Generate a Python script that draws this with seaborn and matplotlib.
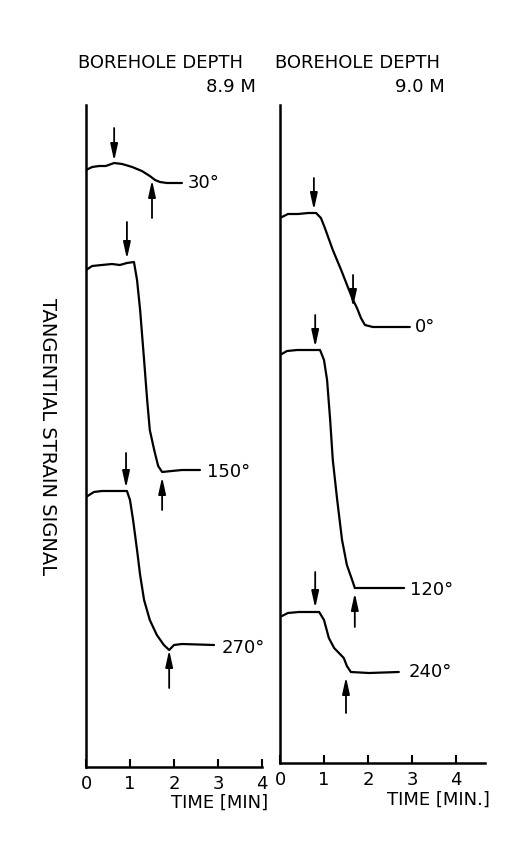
import numpy as np
import pandas as pd
import matplotlib
matplotlib.use("Agg")
import matplotlib.pyplot as plt
import seaborn as sns

# time [min] and signal (arbitrary units)
t_89_30 = [0.0, 0.14, 0.30, 0.45, 0.64, 0.82, 1.05, 1.27, 1.45, 1.57, 1.68, 1.84, 2.18]
s_89_30 = [59.7, 60.0, 60.1, 60.1, 60.4, 60.3, 60.0, 59.6, 59.1, 58.7, 58.5, 58.4, 58.4]
t_89_150 = [0.0, 0.14, 0.36, 0.59, 0.77, 0.93, 1.09, 1.16, 1.23, 1.32, 1.39, 1.45, 1.55, 1.64, 1.73, 1.95, 2.18, 2.59]
s_89_150 = [49.7, 50.1, 50.2, 50.3, 50.2, 50.4, 50.5, 48.7, 45.7, 40.7, 36.7, 33.7, 31.7, 30.1, 29.5, 29.6, 29.7, 29.7]
t_89_270 = [0.0, 0.18, 0.36, 0.59, 0.93, 1.0, 1.07, 1.16, 1.23, 1.32, 1.45, 1.61, 1.77, 1.89, 2.0, 2.18, 2.91]
s_89_270 = [27.0, 27.5, 27.6, 27.6, 27.6, 26.7, 24.7, 21.7, 19.2, 16.7, 14.7, 13.2, 12.2, 11.7, 12.2, 12.3, 12.2]

t_90_0 = [0.0, 0.18, 0.41, 0.64, 0.82, 0.93, 1.02, 1.20, 1.39, 1.55, 1.66, 1.75, 1.84, 1.93, 2.11, 2.57, 2.95]
s_90_0 = [54.5, 54.9, 54.9, 55.0, 55.0, 54.5, 53.5, 51.3, 49.3, 47.5, 46.3, 45.5, 44.5, 43.8, 43.6, 43.6, 43.6]
t_90_120 = [0.0, 0.16, 0.39, 0.61, 0.91, 1.0, 1.07, 1.14, 1.20, 1.30, 1.41, 1.52, 1.64, 1.70, 1.98, 2.82]
s_90_120 = [40.8, 41.2, 41.3, 41.3, 41.3, 40.3, 38.3, 34.3, 30.3, 26.3, 22.3, 19.8, 18.3, 17.5, 17.5, 17.5]
t_90_240 = [0.0, 0.18, 0.43, 0.89, 1.0, 1.11, 1.23, 1.34, 1.45, 1.52, 1.61, 2.02, 2.70]
s_90_240 = [14.6, 15.0, 15.1, 15.1, 14.3, 12.5, 11.5, 11.0, 10.5, 9.7, 9.1, 9.0, 9.1]

# curve labels: text, x, y
labels_89 = [("30°", 2.30, 58.4), ("150°", 2.75, 29.5), ("270°", 3.09, 11.9)]
labels_90 = [("0°", 3.07, 43.6), ("120°", 2.95, 17.3), ("240°", 2.93, 9.1)]

# arrows: x, tail y, tip y
arrows_89 = [(0.64, 63.9, 60.6), (1.50, 54.9, 58.7),
             (0.93, 54.5, 50.8), (1.73, 25.7, 29.0),
             (0.91, 31.4, 27.9), (1.89, 7.9, 11.7)]
arrows_90 = [(0.77, 58.5, 55.3), (1.66, 48.8, 45.6),
             (0.80, 44.8, 41.6), (1.70, 13.6, 17.0),
             (0.80, 19.1, 15.5), (1.50, 5.0, 8.6)]

sns.set_style("white")
plt.rcParams["font.family"] = ["DejaVu Sans"]
plt.rcParams["text.color"] = "black"
plt.rcParams["xtick.color"] = "black"
plt.rcParams["axes.labelcolor"] = "black"

W, H = 522, 847
fig = plt.figure(figsize=(W / 100, H / 100), dpi=100)

ax1 = fig.add_axes([86 / W, (H - 767) / H, 176 / W, 662 / H])
ax2 = fig.add_axes([280 / W, (H - 763) / H, 204.6 / W, 658 / H])

def draw_panel(ax, curves, labels, arrows, xmax, ymax):
    for t, s in curves:
        df = pd.DataFrame({"t": t, "s": s})
        sns.lineplot(data=df, x="t", y="s", ax=ax, color="black", lw=1.6,
                     estimator=None, sort=False)
    for txt, x, y in labels:
        ax.text(x, y, txt, fontsize=13, va="center", ha="left", color="black")
    for x, y0, y1 in arrows:
        ax.annotate("", xy=(x, y1), xytext=(x, y0),
                    arrowprops=dict(arrowstyle="-|>,head_length=1.0,head_width=0.22",
                                    color="black", lw=1.3, shrinkA=0, shrinkB=0))
    ax.set_xlim(0, xmax)
    ax.set_ylim(0, ymax)
    ax.set_xticks([0, 1, 2, 3, 4])
    ax.set_yticks([])
    ax.set_xlabel("")
    ax.set_ylabel("")
    sns.despine(ax=ax)
    for sp in ["left", "bottom"]:
        ax.spines[sp].set_linewidth(1.8)
        ax.spines[sp].set_color("black")
    ax.tick_params(axis="x", direction="in", length=6, width=1.5,
                   labelsize=13, pad=6, bottom=True, colors="black")
    ax.patch.set_alpha(0)

draw_panel(ax1, [(t_89_30, s_89_30), (t_89_150, s_89_150), (t_89_270, s_89_270)],
           labels_89, arrows_89, 4.0, 66.2)
draw_panel(ax2, [(t_90_0, s_90_0), (t_90_120, s_90_120), (t_90_240, s_90_240)],
           labels_90, arrows_90, 4.65, 65.8)

fig.text(78 / W, 1 - 63 / H, "BOREHOLE DEPTH", fontsize=13, ha="left", va="center")
fig.text(256 / W, 1 - 87 / H, "8.9 M", fontsize=13, ha="right", va="center")
fig.text(275 / W, 1 - 63 / H, "BOREHOLE DEPTH", fontsize=13, ha="left", va="center")
fig.text(445 / W, 1 - 87 / H, "9.0 M", fontsize=13, ha="right", va="center")

fig.text(268 / W, 1 - 803 / H, "TIME [MIN]", fontsize=13, ha="right", va="center")
fig.text(490 / W, 1 - 800 / H, "TIME [MIN.]", fontsize=13, ha="right", va="center")

fig.text(47 / W, 1 - 437 / H, "TANGENTIAL STRAIN SIGNAL", fontsize=14,
         rotation=270, ha="center", va="center")

fig.savefig("out.png", dpi=100, facecolor="white")
